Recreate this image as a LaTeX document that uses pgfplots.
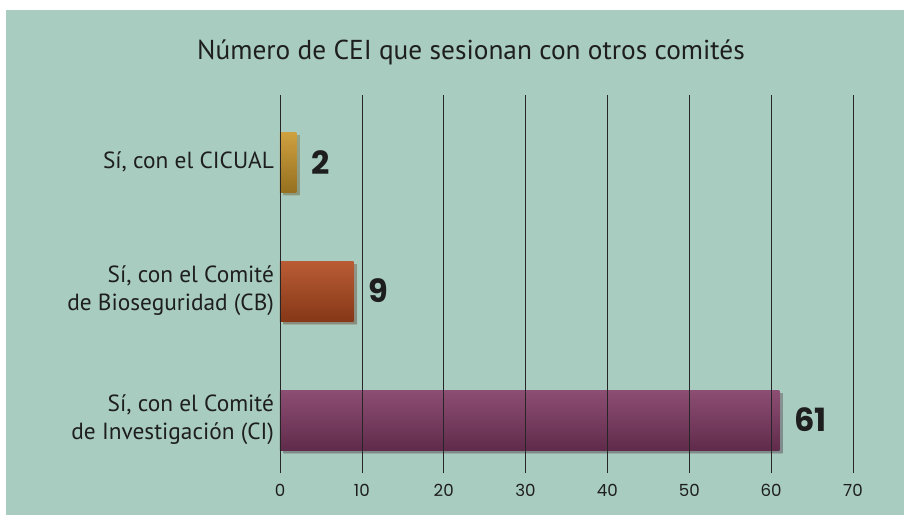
\documentclass[border=0pt]{standalone}
\usepackage{fontspec}
\setmainfont{PT Sans}
\newfontfamily\numfont{Poppins}
\usepackage{pgfplots}
\pgfplotsset{compat=1.18}
\usetikzlibrary{shadows}
\definecolor{bgmint}{HTML}{A8CCC0}
\definecolor{cgold}{HTML}{C9962A}
\definecolor{corange}{HTML}{B24A1F}
\definecolor{cpurple}{HTML}{803A64}
\definecolor{txt}{HTML}{1E1E1E}
\begin{document}
\begin{tikzpicture}
% page and panel (1px = 0.75pt)
\fill[white] (0pt,0pt) rectangle (678pt,386.25pt);
\fill[bgmint] (4.5pt,0pt) rectangle (678pt,378.75pt);
\node[font=\fontsize{20.5}{23}\selectfont, text=txt] at (353.25pt,347.25pt)
  {Número de CEI que sesionan con otros comités};
\begin{axis}[
  at={(210pt,31.5pt)}, anchor=south west,
  scale only axis, width=429.75pt, height=283.5pt,
  xmin=0, xmax=70, ymin=-0.41, ymax=2.52,
  xtick={0,10,...,70},
  ytick={0,1,2},
  yticklabels={{Sí, con el Comité\\de Investigación (CI)},
               {Sí, con el Comité\\de Bioseguridad (CB)},
               {Sí, con el CICUAL}},
  /pgf/number format/assume math mode=true,
  yticklabel style={align=right, font=\fontsize{17.5}{21}\selectfont, text=txt, xshift=-1pt},
  xticklabel style={font=\numfont\fontsize{12.5}{14}\selectfont, text=txt, yshift=-5pt},
  axis line style={draw=none},
  tick style={draw=none},
  xmajorgrids=true,
  major grid style={black!85, line width=0.45pt},
  extra x ticks={0},
  extra x tick labels={},
  extra x tick style={grid style={black, line width=1.1pt}},
  axis on top,
  clip=false,
]
\addplot[xbar, bar width=0.465, bar shift=0pt, draw=none,
  top color=cpurple!90!white, middle color=cpurple, bottom color=cpurple!75!black,
  drop shadow={shadow xshift=2.5pt, shadow yshift=-2.5pt, opacity=0.2, fill=black}]
  coordinates {(61,0)};
\addplot[xbar, bar width=0.465, bar shift=0pt, draw=none,
  top color=corange!90!white, middle color=corange, bottom color=corange!75!black,
  drop shadow={shadow xshift=2.5pt, shadow yshift=-2.5pt, opacity=0.2, fill=black}]
  coordinates {(9,1)};
\addplot[xbar, bar width=0.465, bar shift=0pt, draw=none,
  top color=cgold!90!white, middle color=cgold, bottom color=cgold!75!black,
  drop shadow={shadow xshift=2.5pt, shadow yshift=-2.5pt, opacity=0.2, fill=black}]
  coordinates {(2,2)};
\addplot[draw=none, mark=none, nodes near coords, point meta=explicit symbolic,
  nodes near coords style={anchor=west, inner sep=0pt, xshift=11pt,
    font=\numfont\bfseries\fontsize{24}{26}\selectfont, text=txt}]
  coordinates {(2,2) [2] (9,1) [9] (61,0) [61]};
\end{axis}
\end{tikzpicture}
\end{document}
